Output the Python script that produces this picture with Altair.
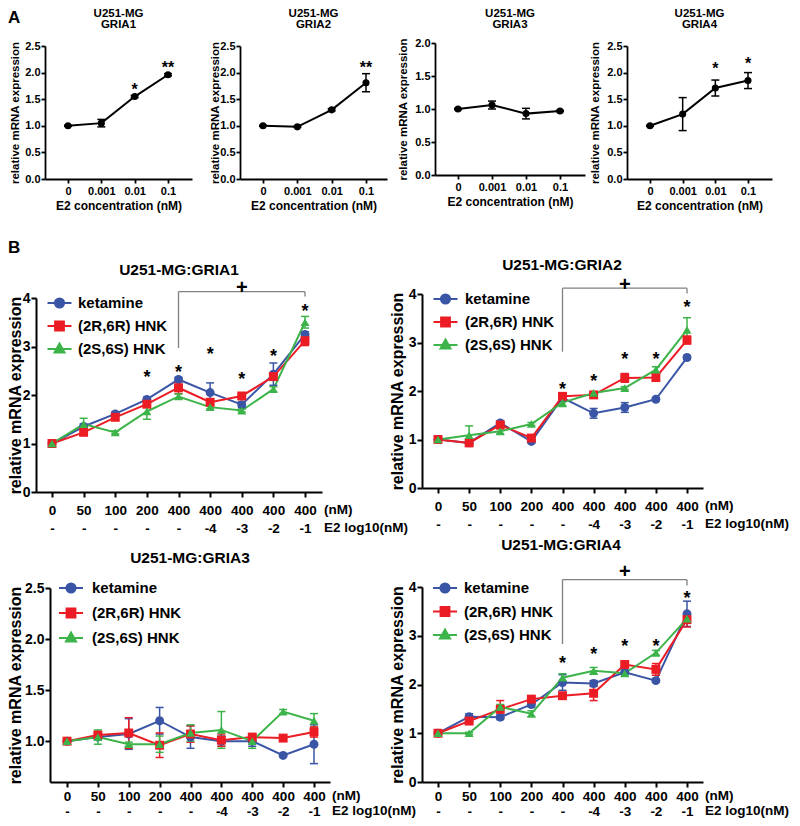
import altair as alt
import pandas as pd

FONT = "Liberation Sans, Arial, Helvetica, sans-serif"
W, H, M = 784, 810, 8

# ---------------- data ----------------
SERIES = ["ketamine", "(2R,6R) HNK", "(2S,6S) HNK"]
COLORS = ["#3a55a5", "#ec1c24", "#3cb44a"]
SHAPES = ["circle", "square", "triangle-up"]

# Panel A (E2 only)
A_conc = ["0", "0.001", "0.01", "0.1"]
a1_mean = [1.00, 1.05, 1.55, 1.96]
a1_err = [0.01, 0.07, 0.02, 0.02]
a2_mean = [1.00, 0.98, 1.30, 1.81]
a2_err = [0.01, 0.01, 0.02, 0.17]
a3_mean = [1.00, 1.06, 0.93, 0.97]
a3_err = [0.01, 0.06, 0.08, 0.01]
a4_mean = [1.00, 1.22, 1.71, 1.85]
a4_err = [0.01, 0.31, 0.15, 0.15]
a1_star_i, a1_star_t, a1_star_y = [2, 3], ["*", "**"], [1.75, 2.16]
a2_star_i, a2_star_t, a2_star_y = [3], ["**"], [2.16]
a3_star_i, a3_star_t, a3_star_y = [], [], []
a4_star_i, a4_star_t, a4_star_y = [2, 3], ["*", "*"], [2.14, 2.23]

# Panel B
B_dose = ["0", "50", "100", "200", "400", "400", "400", "400", "400"]
B_e2 = ["-", "-", "-", "-", "-", "-4", "-3", "-2", "-1"]

b1_ket = [1.00, 1.35, 1.61, 1.91, 2.32, 2.05, 1.80, 2.43, 3.25]
b1_ket_err = [0.02, 0.05, 0.04, 0.04, 0.04, 0.20, 0.06, 0.23, 0.05]
b1_rr = [1.00, 1.23, 1.54, 1.81, 2.15, 1.85, 1.98, 2.38, 3.12]
b1_rr_err = [0.02, 0.06, 0.05, 0.06, 0.12, 0.06, 0.04, 0.06, 0.10]
b1_ss = [1.00, 1.40, 1.23, 1.66, 1.97, 1.75, 1.68, 2.12, 3.50]
b1_ss_err = [0.02, 0.12, 0.03, 0.16, 0.05, 0.04, 0.03, 0.05, 0.12]
b1_star_i = [3, 4, 5, 6, 7, 8]
b1_star_y = [2.46, 2.56, 2.93, 2.42, 2.89, 3.82]
b1_bracket = [4.13, 2.97, 4.03, 4.20]  # top, left end, right end, plus sign

b2_ket = [1.00, 0.93, 1.34, 0.96, 1.86, 1.54, 1.66, 1.83, 2.69]
b2_ket_err = [0.02, 0.03, 0.04, 0.03, 0.04, 0.10, 0.10, 0.03, 0.04]
b2_rr = [1.00, 0.93, 1.30, 1.03, 1.89, 1.92, 2.27, 2.28, 3.05]
b2_rr_err = [0.02, 0.06, 0.03, 0.03, 0.04, 0.04, 0.09, 0.08, 0.08]
b2_ss = [1.00, 1.09, 1.17, 1.32, 1.76, 1.96, 2.06, 2.44, 3.26]
b2_ss_err = [0.02, 0.19, 0.05, 0.03, 0.08, 0.02, 0.03, 0.06, 0.25]
b2_star_i = [4, 5, 6, 7, 8]
b2_star_y = [2.12, 2.29, 2.74, 2.74, 3.81]
b2_bracket = [4.12, 2.81, 4.01, 4.19]

b3_ket = [1.00, 1.04, 1.07, 1.20, 1.04, 1.00, 1.00, 0.86, 0.97]
b3_ket_err = [0.01, 0.03, 0.15, 0.13, 0.11, 0.05, 0.05, 0.01, 0.19]
b3_rr = [1.00, 1.06, 1.08, 0.96, 1.07, 1.01, 1.04, 1.03, 1.09]
b3_rr_err = [0.01, 0.03, 0.15, 0.12, 0.08, 0.06, 0.03, 0.02, 0.05]
b3_ss = [1.00, 1.04, 0.97, 0.97, 1.08, 1.11, 1.00, 1.29, 1.20]
b3_ss_err = [0.01, 0.07, 0.02, 0.08, 0.08, 0.18, 0.07, 0.02, 0.07]
b3_star_i, b3_star_y = [], []
b3_bracket = None

b4_ket = [1.00, 1.34, 1.33, 1.59, 2.04, 2.02, 2.25, 2.08, 3.45]
b4_ket_err = [0.02, 0.06, 0.05, 0.05, 0.16, 0.06, 0.04, 0.03, 0.26]
b4_rr = [1.00, 1.25, 1.49, 1.70, 1.77, 1.82, 2.41, 2.31, 3.33]
b4_rr_err = [0.02, 0.03, 0.18, 0.05, 0.04, 0.15, 0.04, 0.12, 0.15]
b4_ss = [1.00, 1.00, 1.54, 1.40, 2.14, 2.28, 2.23, 2.65, 3.35]
b4_ss_err = [0.02, 0.02, 0.05, 0.06, 0.08, 0.07, 0.05, 0.05, 0.07]
b4_star_i = [4, 5, 6, 7, 8]
b4_star_y = [2.52, 2.71, 2.87, 2.88, 3.86]
b4_bracket = [4.15, 2.83, 4.03, 4.31]

# ---------------- layout (page pixel positions) ----------------
A_POS = {
    "GRIA1": dict(left=45, right=192, t0=68, tN=168, top=46, bottom=179, ymin=0, ymax=2.5, ytx=15),
    "GRIA2": dict(left=240, right=387, t0=263, tN=366, top=46, bottom=179, ymin=0, ymax=2.5, ytx=215),
    "GRIA3": dict(left=435, right=585, t0=458, tN=560, top=43, bottom=175, ymin=0, ymax=2.0, ytx=403),
    "GRIA4": dict(left=627, right=772, t0=650, tN=748, top=46, bottom=179, ymin=0, ymax=2.5, ytx=595),
}
B_POS = {
    "GRIA1": dict(left=36, right=322, t0=52, tN=305, top=298, bottom=492, ymin=0, ymax=4,
                  title=(179, 270), ytx=15, leg=(59.5, 78, 303), rp=5, pad=6, lh=18),
    "GRIA2": dict(left=422, right=703, t0=438, tN=687, top=294, bottom=488, ymin=0, ymax=4,
                  title=(562, 265), ytx=397, leg=(445.5, 465, 299), rp=5, pad=6, lh=18),
    "GRIA3": dict(left=50, right=330, t0=67, tN=314, top=588, bottom=782, ymin=0.6, ymax=2.5,
                  title=(190, 558), ytx=15, leg=(71, 92, 588), rp=7, pad=2, lh=15),
    "GRIA4": dict(left=422, right=703, t0=438, tN=687, top=587, bottom=782, ymin=0, ymax=4,
                  title=(561, 545), ytx=397, leg=(445, 464, 588), rp=5.5, pad=2, lh=15),
}

AX = dict(labelFont=FONT, labelFontWeight="bold", labelColor="black", titleFont=FONT,
          titleFontWeight="bold", titleColor="black", domainColor="black", tickColor="black",
          grid=False, labelFlush=False, labelOverlap=False)

A_EXPR = "[" + ",".join("'%s'" % c for c in A_conc) + "][datum.value]"
B_EXPR = "[" + ",".join("['%s','%s']" % (d, e) for d, e in zip(B_dose, B_e2)) + "][datum.value]"

LEG_FS = 15  # legend label font size; Vega's legend entry size = max(sqrt(size)+stroke, fontSize)


def leg_path(kind):
    """legend symbol: a short line with the marker on it"""
    line = "M-3,0L3,0"
    if kind == "circle":
        r = 1.15
        return line + "M%g,0A%g,%g,0,1,1,%g,0A%g,%g,0,1,1,%g,0Z" % (r, r, r, -r, r, r, r)
    if kind == "square":
        s = 1.1
        return line + "M%g,%gL%g,%gL%g,%gL%g,%gZ" % (-s, -s, s, -s, s, s, -s, s)
    return line + "M0,-1.35L1.25,0.9L-1.25,0.9Z"


LEG_PATHS = [leg_path(k) for k in SHAPES]
CAP = "M-1,0L1,0"


def lin_x(p, n):
    slope = (p["tN"] - p["t0"]) / (n - 1)
    d0 = -(p["t0"] - p["left"]) / slope
    d1 = (n - 1) + (p["right"] - p["tN"]) / slope
    return alt.Scale(domain=[d0, d1], range=[p["left"] - M, p["right"] - M], nice=False, zero=False)


def lin_y(p):
    return alt.Scale(domain=[p["ymin"], p["ymax"]], range=[p["bottom"] - M, p["top"] - M],
                     nice=False, zero=False)


def text_mark(txt, x, y, size, align="center", baseline="middle", weight="bold", dy=0):
    return alt.Chart(pd.DataFrame({"t": [txt]})).mark_text(
        font=FONT, fontSize=size, fontWeight=weight, align=align, baseline=baseline,
        color="black", dy=dy
    ).encode(x=alt.value(x - M), y=alt.value(y - M), text="t:N")


layers = []


def a_panel(gene, mean, err, si, st, sy):
    p = A_POS[gene]
    n = len(A_conc)
    df = pd.DataFrame({"i": list(range(n)), "mean": mean, "err": err})
    df["lo"] = df["mean"] - df["err"]
    df["hi"] = df["mean"] + df["err"]
    xs, ys = lin_x(p, n), lin_y(p)
    nt = int(round(p["ymax"] / 0.5)) + 1
    xax = alt.Axis(orient="bottom", offset=(p["bottom"] - M) - H, values=list(range(n)),
                   labelExpr=A_EXPR, labelFontSize=11, labelPadding=2, tickSize=4, tickWidth=1.8,
                   domainWidth=1.8, title="E2 concentration (nM)", titleFontSize=12, titleY=26,
                   titleBaseline="middle", **AX)
    yax = alt.Axis(orient="left", offset=-(p["left"] - M), values=[0.5 * k for k in range(nt)],
                   format=".1f", labelFontSize=11, labelPadding=1, tickSize=4, tickWidth=1.8,
                   domainWidth=1.8, title="relative mRNA expression", titleFontSize=11.5,
                   titleAngle=270, titleX=p["ytx"] - p["left"],
                   titleY=(p["top"] + p["bottom"]) / 2 - M, titleBaseline="middle", **AX)
    base = alt.Chart(df)
    X = alt.X("i:Q", scale=xs, axis=None)
    layers.append(base.mark_line(color="black", strokeWidth=2).encode(
        x=alt.X("i:Q", scale=xs, axis=xax), y=alt.Y("mean:Q", scale=ys, axis=yax)))
    layers.append(base.mark_rule(color="black", strokeWidth=1.5).encode(
        x=X, y=alt.Y("lo:Q", scale=ys, axis=None), y2="hi:Q"))
    for f in ["lo", "hi"]:
        layers.append(base.mark_point(shape=CAP, filled=False, size=64, strokeWidth=1.5,
                                      color="black", opacity=1).encode(
            x=X, y=alt.Y(f + ":Q", scale=ys, axis=None)))
    layers.append(base.mark_point(shape="circle", filled=True, size=50, color="black",
                                  opacity=1).encode(x=X, y=alt.Y("mean:Q", scale=ys, axis=None)))
    if si:
        sdf = pd.DataFrame({"i": si, "y": sy, "t": st})
        layers.append(alt.Chart(sdf).mark_text(font=FONT, fontSize=16, fontWeight="bold",
                                               baseline="middle", dy=4, color="black").encode(
            x=X, y=alt.Y("y:Q", scale=ys, axis=None), text="t:N"))
    cx = (p["left"] + p["right"]) / 2
    layers.append(text_mark("U251-MG", cx, 13.5, 11.5))
    layers.append(text_mark(gene, cx, 25, 11.5))


def b_panel(gene, vals, errs, si, sy, br):
    p = B_POS[gene]
    n = len(B_dose)
    rows = []
    for s, v, e in zip(SERIES, vals, errs):
        for k in range(n):
            rows.append({"i": k, "series": s, "mean": v[k], "lo": v[k] - e[k], "hi": v[k] + e[k]})
    df = pd.DataFrame(rows)
    xs, ys = lin_x(p, n), lin_y(p)
    if p["ymin"] == 0:
        yvals, fmt = [0, 1, 2, 3, 4], "d"
    else:
        yvals, fmt = [1.0, 1.5, 2.0, 2.5], ".1f"
    xax = alt.Axis(orient="bottom", offset=(p["bottom"] - M) - H, values=list(range(n)),
                   labelExpr=B_EXPR, labelFontSize=13.5, labelPadding=p["pad"],
                   labelLineHeight=p["lh"], tickSize=5, tickWidth=2, domainWidth=2, title=None, **AX)
    yax = alt.Axis(orient="left", offset=-(p["left"] - M), values=yvals, format=fmt,
                   labelFontSize=14, labelPadding=1, tickSize=5, tickWidth=2, domainWidth=2,
                   title="relative mRNA expression", titleFontSize=16, titleAngle=270,
                   titleX=p["ytx"] - p["left"], titleY=(p["top"] + p["bottom"]) / 2 - M,
                   titleBaseline="middle", **AX)
    col = alt.Color("series:N", scale=alt.Scale(domain=SERIES, range=COLORS), legend=None)
    X = alt.X("i:Q", scale=xs, axis=None)
    base = alt.Chart(df)
    layers.append(base.mark_line(strokeWidth=2).encode(
        x=alt.X("i:Q", scale=xs, axis=xax), y=alt.Y("mean:Q", scale=ys, axis=yax), color=col))
    layers.append(base.mark_rule(strokeWidth=1.5).encode(
        x=X, y=alt.Y("lo:Q", scale=ys, axis=None), y2="hi:Q", color=col))
    for f in ["lo", "hi"]:
        layers.append(base.mark_point(shape=CAP, filled=False, size=64, strokeWidth=1.5,
                                      opacity=1).encode(
            x=X, y=alt.Y(f + ":Q", scale=ys, axis=None), color=col))
    layers.append(base.mark_point(filled=True, size=80, opacity=1).encode(
        x=X, y=alt.Y("mean:Q", scale=ys, axis=None), color=col,
        shape=alt.Shape("series:N", scale=alt.Scale(domain=SERIES, range=SHAPES), legend=None)))
    # legend (symbol centre = legendX + LEG_FS/2, label start = legendX + LEG_FS + labelOffset)
    cx, lx, ry = p["leg"]
    leg = alt.Legend(orient="none", legendX=cx - M - LEG_FS / 2, legendY=ry - M - LEG_FS / 2,
                     title=None, direction="vertical", symbolSize=64, symbolStrokeWidth=2,
                     symbolOpacity=1, labelFont=FONT, labelFontSize=LEG_FS, labelFontWeight="bold",
                     labelColor="black", labelOffset=max(0.0, (lx - cx) - LEG_FS / 2),
                     rowPadding=p["rp"], padding=0, symbolOffset=0)
    layers.append(base.mark_point(filled=True, opacity=0).encode(
        x=X, y=alt.Y("mean:Q", scale=ys, axis=None),
        fill=alt.Fill("series:N", scale=alt.Scale(domain=SERIES, range=COLORS), legend=leg),
        stroke=alt.Stroke("series:N", scale=alt.Scale(domain=SERIES, range=COLORS), legend=leg),
        shape=alt.Shape("series:N", scale=alt.Scale(domain=SERIES, range=LEG_PATHS), legend=leg)))
    if si:
        sdf = pd.DataFrame({"i": si, "y": sy, "t": ["*"] * len(si)})
        layers.append(alt.Chart(sdf).mark_text(font=FONT, fontSize=18, fontWeight="bold",
                                               baseline="middle", dy=5, color="black").encode(
            x=X, y=alt.Y("y:Q", scale=ys, axis=None), text="t:N"))
    if br:
        top, lend, rend, plus = br
        bdf = pd.DataFrame({"x": [4, 4, 8], "x2": [8, 4, 8], "y": [top, lend, rend],
                            "y2": [top, top, top]})
        layers.append(alt.Chart(bdf).mark_rule(color="#808080", strokeWidth=1.3).encode(
            x=alt.X("x:Q", scale=xs, axis=None), x2="x2:Q",
            y=alt.Y("y:Q", scale=ys, axis=None), y2="y2:Q"))
        pdf = pd.DataFrame({"x": [6], "y": [plus], "t": ["+"]})
        layers.append(alt.Chart(pdf).mark_text(font=FONT, fontSize=20, fontWeight="bold",
                                               baseline="middle", color="black").encode(
            x=alt.X("x:Q", scale=xs, axis=None), y=alt.Y("y:Q", scale=ys, axis=None), text="t:N"))
    tx, ty = p["title"]
    layers.append(text_mark("U251-MG:" + gene, tx, ty, 15.5))
    r1 = p["bottom"] + p["pad"] + 11.6
    layers.append(text_mark("(nM)", p["right"] + 2, r1, 13.5, align="left"))
    layers.append(text_mark("E2 log10(nM)", p["right"] + 2, r1 + p["lh"], 13.5, align="left"))


a_panel("GRIA1", a1_mean, a1_err, a1_star_i, a1_star_t, a1_star_y)
a_panel("GRIA2", a2_mean, a2_err, a2_star_i, a2_star_t, a2_star_y)
a_panel("GRIA3", a3_mean, a3_err, a3_star_i, a3_star_t, a3_star_y)
a_panel("GRIA4", a4_mean, a4_err, a4_star_i, a4_star_t, a4_star_y)

b_panel("GRIA1", [b1_ket, b1_rr, b1_ss], [b1_ket_err, b1_rr_err, b1_ss_err], b1_star_i, b1_star_y, b1_bracket)
b_panel("GRIA2", [b2_ket, b2_rr, b2_ss], [b2_ket_err, b2_rr_err, b2_ss_err], b2_star_i, b2_star_y, b2_bracket)
b_panel("GRIA3", [b3_ket, b3_rr, b3_ss], [b3_ket_err, b3_rr_err, b3_ss_err], b3_star_i, b3_star_y, b3_bracket)
b_panel("GRIA4", [b4_ket, b4_rr, b4_ss], [b4_ket_err, b4_rr_err, b4_ss_err], b4_star_i, b4_star_y, b4_bracket)

layers.append(text_mark("A", 8, 10, 17, align="left", baseline="top"))
layers.append(text_mark("B", 8, 240, 17, align="left", baseline="top"))

chart = alt.layer(*layers).resolve_scale(
    x="independent", y="independent", color="independent", shape="independent",
    fill="independent", stroke="independent"
).properties(
    width=W, height=H, autosize=alt.AutoSizeParams(type="none"), padding=0
).configure_view(stroke=None)

chart.save("out.html", embed_options={"renderer": "svg", "actions": False})
